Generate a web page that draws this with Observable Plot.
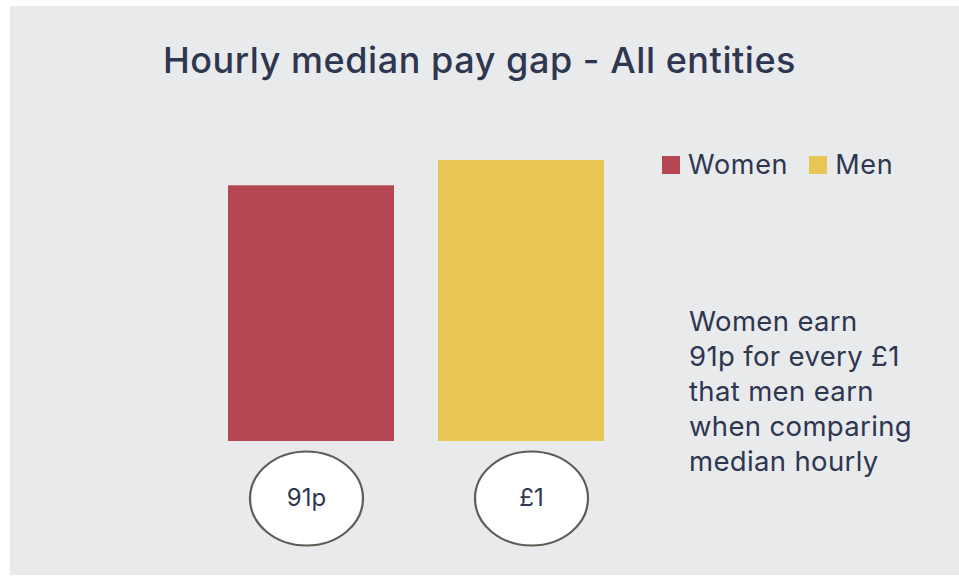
<!DOCTYPE html>
<html>
<head>
<meta charset="utf-8">
<script src="https://cdn.jsdelivr.net/npm/d3@7"></script>
<script src="https://cdn.jsdelivr.net/npm/@observablehq/plot@0.6"></script>
<style>
  html, body { margin: 0; padding: 0; background: #ffffff; }
  #wrap { position: relative; width: 959px; height: 576px; overflow: hidden; font-family: Inter, "DejaVu Sans", sans-serif; color: #2e3650; }
  #panel { position: absolute; left: 10px; top: 6px; right: 0; bottom: 1px; background: #e9eaec; }
  #title { position: absolute; left: 0; width: 959px; top: 38px; text-align: center; font-size: 36px; font-weight: 500; letter-spacing: 0.55px; margin: 0; }
  #chart { position: absolute; left: 0; top: 0; }
  #legend { position: absolute; left: 662px; top: 148px; font-size: 27px; letter-spacing: 0.7px; display: flex; align-items: center; }
  #legend .sw { display: inline-block; width: 18px; height: 18px; margin-right: 8px; }
  #legend .item { display: flex; align-items: center; margin-right: 21px; }
  #note { position: absolute; left: 689px; top: 304px; font-size: 27.5px; letter-spacing: 0.35px; line-height: 35px; }
</style>
</head>
<body>
<div id="wrap">
  <div id="panel"></div>
  <h1 id="title"></h1>
  <div id="chart"></div>
  <div id="legend"></div>
  <div id="note"></div>
</div>
<script>
// Data
const title = "Hourly median pay gap - All entities";
const categories = ["Women", "Men"];
const values = [91, 100];
const valueLabels = ["91p", "£1"];
const colors = ["#b64652", "#e7c654"];
const noteLines = ["Women earn", "91p for every £1", "that men earn", "when comparing", "median hourly"];

const data = categories.map((c, i) => ({category: c, value: values[i], label: valueLabels[i]}));
const textColor = "#2e3650";

const ellipse = {
  draw(ctx) {
    const rx = 56.5, ry = 47, k = 0.5523;
    ctx.moveTo(rx, 0);
    ctx.bezierCurveTo(rx, ry * k, rx * k, ry, 0, ry);
    ctx.bezierCurveTo(-rx * k, ry, -rx, ry * k, -rx, 0);
    ctx.bezierCurveTo(-rx, -ry * k, -rx * k, -ry, 0, -ry);
    ctx.bezierCurveTo(rx * k, -ry, rx, -ry * k, rx, 0);
    ctx.closePath();
  }
};

document.getElementById("title").textContent = title;

// label badges sit slightly off the bar centres in the original
const badgeShift = {Women: -5, Men: 10};
const badgeMarks = categories.flatMap(c => {
  const d = data.filter(r => r.category === c);
  return [
    Plot.dot(d, {x: "category", y: () => 0, dy: 57, dx: badgeShift[c], symbol: ellipse, fill: "white", stroke: "#5f5b57", strokeWidth: 2.2}),
    Plot.text(d, {x: "category", y: () => 0, dy: 57, dx: badgeShift[c], text: "label", fontSize: 24, fill: textColor})
  ];
});

const chart = Plot.plot({
  width: 959,
  height: 576,
  style: {background: "transparent", fontFamily: "Inter, sans-serif"},
  x: {domain: categories, range: [227, 605], paddingInner: 0.2085, paddingOuter: 0, axis: null},
  y: {domain: [0, 100], range: [441, 160], axis: null},
  color: {domain: categories, range: colors},
  marks: [
    Plot.barY(data, {x: "category", y: "value", fill: "category"}),
    ...badgeMarks
  ]
});
document.getElementById("chart").appendChild(chart);

const legend = document.getElementById("legend");
categories.forEach((c, i) => {
  const item = document.createElement("span");
  item.className = "item";
  const sw = document.createElement("span");
  sw.className = "sw";
  sw.style.background = colors[i];
  item.appendChild(sw);
  item.appendChild(document.createTextNode(c));
  legend.appendChild(item);
});

const note = document.getElementById("note");
noteLines.forEach(l => {
  const d = document.createElement("div");
  d.textContent = l;
  note.appendChild(d);
});
</script>
</body>
</html>
